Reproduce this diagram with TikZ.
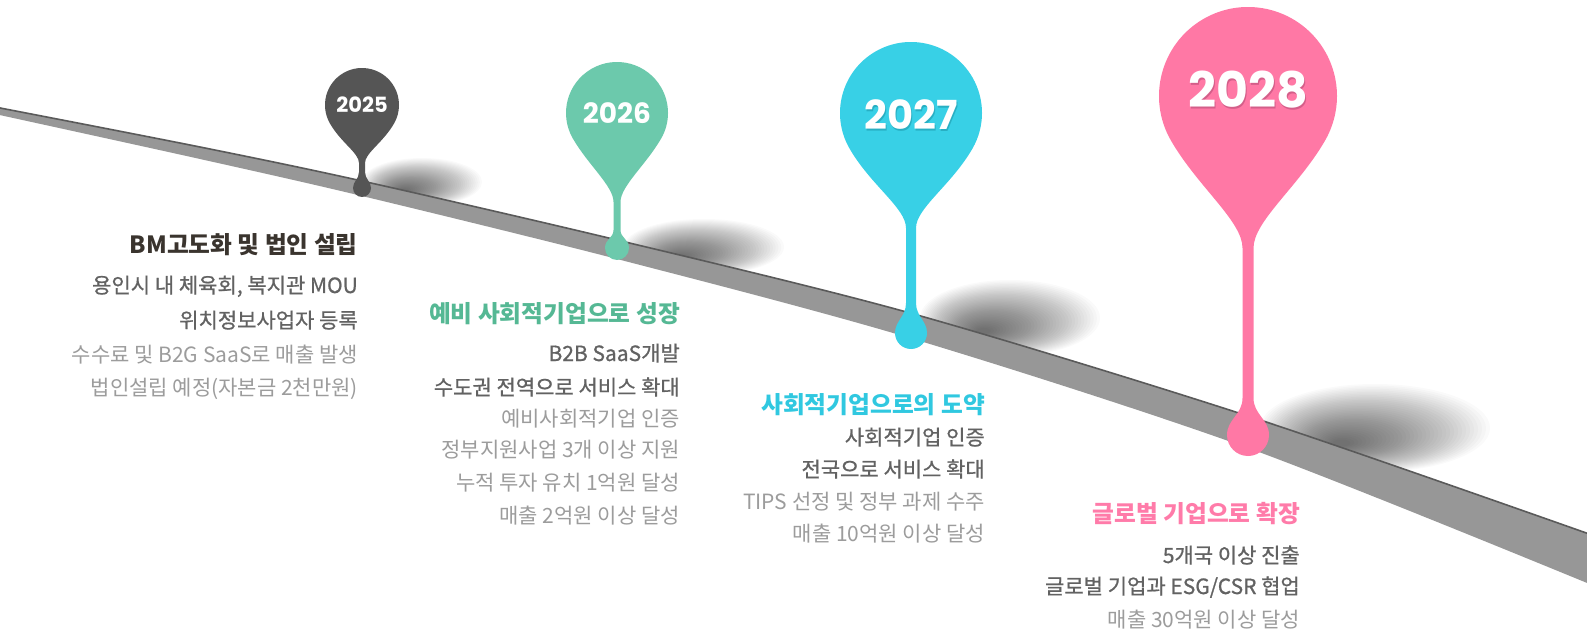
\documentclass[tikz,border=0pt]{standalone}
\usepackage{fontspec}
\newfontfamily\kr{Noto Sans CJK KR}
\newfontfamily\krm{Noto Sans CJK KR}[FakeBold=0.8]
\newfontfamily\yr{Poppins}
\definecolor{pinA}{HTML}{555555}
\definecolor{pinB}{HTML}{6CC9AC}
\definecolor{pinC}{HTML}{38D0E6}
\definecolor{pinD}{HTML}{FF78A5}
\definecolor{ttlA}{HTML}{3A342E}
\definecolor{ttlB}{HTML}{55B894}
\definecolor{ttlC}{HTML}{30C8E0}
\definecolor{ttlD}{HTML}{FF7BA9}
\definecolor{dk}{HTML}{626262}
\definecolor{lt}{HTML}{9C9C9C}
\definecolor{roadc}{HTML}{979797}
\definecolor{roadedge}{HTML}{5A5A5A}
\definecolor{shC}{HTML}{28AFC3}
\definecolor{shD}{HTML}{D45E89}
% pin: color, cx, cy, R, neck y, stem half width, stem end y, drop y, drop r
\newcommand{\drawpin}[9]{%
  \fill[#1] ({#2-#6},#5)
    .. controls ({#2-#6},{#5-0.25*(#5-#3-0.5*#4)}) and ({#2-0.866*#4+0.3*#4},{#3+0.5*#4+0.52*#4}) .. ({#2-0.866*#4},{#3+0.5*#4})
    arc[start angle=150, end angle=390, radius=#4]
    .. controls ({#2+0.866*#4-0.3*#4},{#3+0.5*#4+0.52*#4}) and ({#2+#6},{#5-0.25*(#5-#3-0.5*#4)}) .. ({#2+#6},#5)
    -- ({#2+#6},#7)
    .. controls ({#2+#6},{#7+0.45*(#8-#7)}) and ({#2+#9},{#8-0.75*#9}) .. ({#2+#9},#8)
    arc[start angle=0, end angle=180, radius=#9]
    .. controls ({#2-#9},{#8-0.75*#9}) and ({#2-#6},{#7+0.45*(#8-#7)}) .. ({#2-#6},#7)
    -- cycle;}
% soft ground shadow: cx, cy, rx, ry
\newcommand{\gshadow}[4]{%
  \foreach \k in {0,...,35}{%
    \fill[black,opacity=0.02] ({#1-0.3*#3*\k/36},{#2+0.35*#4*\k/36})
      ellipse [x radius={#3*(1-\k/38)}, y radius={#4*(1-\k/38)}];}}
\tikzset{
  ttl/.style={anchor=base east, inner sep=0pt, font=\kr\bfseries\fontsize{23.7}{26}\selectfont},
  bodyd/.style={anchor=base east, inner sep=0pt, text=dk, font=\krm\fontsize{21}{24}\selectfont},
  bodyl/.style={anchor=base east, inner sep=0pt, text=lt, font=\kr\fontsize{21}{24}\selectfont},
  yeartxt/.style={text=white, inner sep=0pt}
}
\begin{document}
\begin{tikzpicture}[x=1pt,y=-1pt]
\useasboundingbox (0,0) rectangle (1587,636);
\fill[white] (0,0) rectangle (1587,636);

% ground shadows of the pins
\gshadow{422}{182}{60}{24}
\gshadow{704}{247}{80}{28}
\gshadow{1010}{318}{90}{38}
\gshadow{1375}{428}{115}{44}

% road
\fill[roadc] plot[smooth] coordinates {(-5,107) (200,147) (362,181) (617,240) (910,313) (1248,416) (1592,535)}
  -- plot[smooth] coordinates {(1592,585) (1248,448) (910,338) (617,259) (362,196) (200,159) (-5,114)} -- cycle;
\draw[roadedge, line width=1.6] plot[smooth] coordinates {(-5,107) (200,147) (362,181) (617,240) (910,313) (1248,416) (1592,535)};

% pins
\drawpin{pinA}{362}{105}{37}{163}{3}{172}{188}{9}
\drawpin{pinB}{617}{113}{51}{202}{3.5}{230}{248}{12}
\drawpin{pinC}{911}{113}{71}{228}{5}{303}{333}{16}
\drawpin{pinD}{1248}{96}{89}{248}{5.5}{398}{435}{21}

\node[yeartxt, font=\yr\bfseries\fontsize{21}{24}\selectfont] (y25) at (362,105) {2025};
\node[yeartxt, font=\yr\bfseries\fontsize{28}{30}\selectfont] (y26) at (617,113) {2026};
\node[text=shC, inner sep=0pt, font=\yr\bfseries\fontsize{40}{42}\selectfont] at (912,116.5) {2027};
\node[yeartxt, font=\yr\bfseries\fontsize{40}{42}\selectfont] (y27) at (911,115) {2027};
\node[text=shD, inner sep=0pt, font=\yr\bfseries\fontsize{49}{52}\selectfont] at (1249,92) {2028};
\node[yeartxt, font=\yr\bfseries\fontsize{49}{52}\selectfont] (y28) at (1248,90) {2028};

% block 2025
\node[ttl, text=ttlA] (t1) at (358,254) {BM고도화 및 법인 설립};
\node[bodyd] (t1a) at (358,293) {용인시 내 체육회, 복지관 MOU};
\node[bodyd] (t1b) at (358,328) {위치정보사업자 등록};
\node[bodyl] (t1c) at (358,362) {수수료 및 B2G SaaS로 매출 발생};
\node[bodyl] (t1d) at (358,395) {법인설립 예정(자본금 2천만원)};

% block 2026
\node[ttl, text=ttlB] (t2) at (680,323) {예비 사회적기업으로 성장};
\node[bodyd] (t2a) at (680,361) {B2B SaaS개발};
\node[bodyd] (t2b) at (680,395) {수도권 전역으로 서비스 확대};
\node[bodyl] (t2c) at (680,426) {예비사회적기업 인증};
\node[bodyl] (t2d) at (680,457) {정부지원사업 3개 이상 지원};
\node[bodyl] (t2e) at (680,490) {누적 투자 유치 1억원 달성};
\node[bodyl] (t2f) at (680,523) {매출 2억원 이상 달성};

% block 2027
\node[ttl, text=ttlC] (t3) at (985,413) {사회적기업으로의 도약};
\node[bodyd] (t3a) at (985,445) {사회적기업 인증};
\node[bodyd] (t3b) at (985,477) {전국으로 서비스 확대};
\node[bodyl] (t3c) at (985,509) {TIPS 선정 및 정부 과제 수주};
\node[bodyl] (t3d) at (985,541) {매출 10억원 이상 달성};

% block 2028
\node[ttl, text=ttlD] (t4) at (1300,522) {글로벌 기업으로 확장};
\node[bodyd] (t4a) at (1300,563) {5개국 이상 진출};
\node[bodyd] (t4b) at (1300,594) {글로벌 기업과 ESG/CSR 협업};
\node[bodyl] (t4c) at (1300,627) {매출 30억원 이상 달성};
\end{tikzpicture}
\end{document}
